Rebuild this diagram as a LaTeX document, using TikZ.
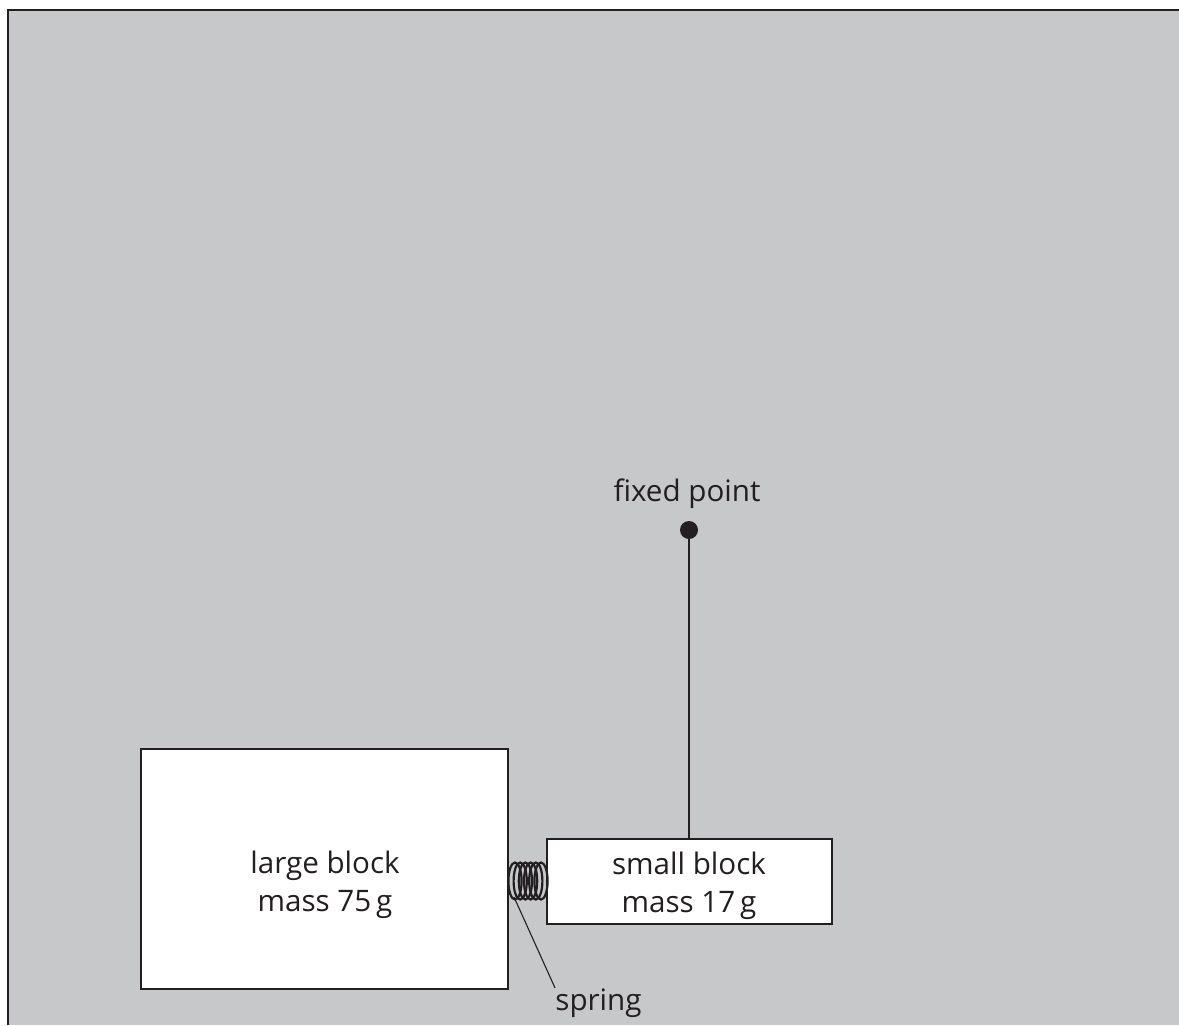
\documentclass[tikz,border=0pt]{standalone}
\usepackage{fontspec}
\setmainfont{Open Sans}
\definecolor{panelgrey}{RGB}{198,200,202}
\definecolor{inkdark}{RGB}{35,31,32}
\tikzset{
  blockbox/.style={draw=inkdark,fill=white,line width=1pt,inner sep=0pt},
  lbl/.style={inner sep=0pt,text=inkdark,align=center,font=\fontsize{14.8}{19.2}\selectfont},
  thin line/.style={draw=inkdark,line width=0.55pt},
  coil/.style={draw=inkdark,line width=1.1pt},
  panelline/.style={draw=inkdark,line width=1pt}
}
\begin{document}
\begin{tikzpicture}[x=0.5pt,y=-0.5pt]
\useasboundingbox (0,0) rectangle (1179,1025);
\fill[white] (0,0) rectangle (1179,1025);
\fill[panelgrey] (8,10) rectangle (1179,1025);
\draw[panelline] (8,1025) -- (8,10) -- (1179,10);
\node[blockbox,minimum width=183.5pt,minimum height=120pt] (large) at (324.5,869) {};
\node[blockbox,minimum width=142.5pt,minimum height=42.5pt] (small) at (689.5,881.5) {};
\node[lbl] (largetext) at (325,885) {large block\\mass 75\,g};
\node[lbl] (smalltext) at (689,886) {small block\\mass 17\,g};
\foreach \cx in {515,520.2,525.4,530.6,535.8,541}
  \draw[coil] (\cx,881) ellipse [x radius=6.6,y radius=18.5];
\node[circle,fill=inkdark,minimum size=9pt,inner sep=0pt] (pivot) at (689,530) {};
\node[lbl,anchor=base] (fixedlabel) at (687,501) {fixed point};
\node[lbl,anchor=base west] (springlabel) at (555,1010) {spring};
\coordinate (springfoot) at (514,897);
\draw[line width=1pt,draw=inkdark] (pivot.center) -- (small.north -| pivot);
\draw[thin line] (springfoot) -- (springlabel.north west);
\end{tikzpicture}
\end{document}
